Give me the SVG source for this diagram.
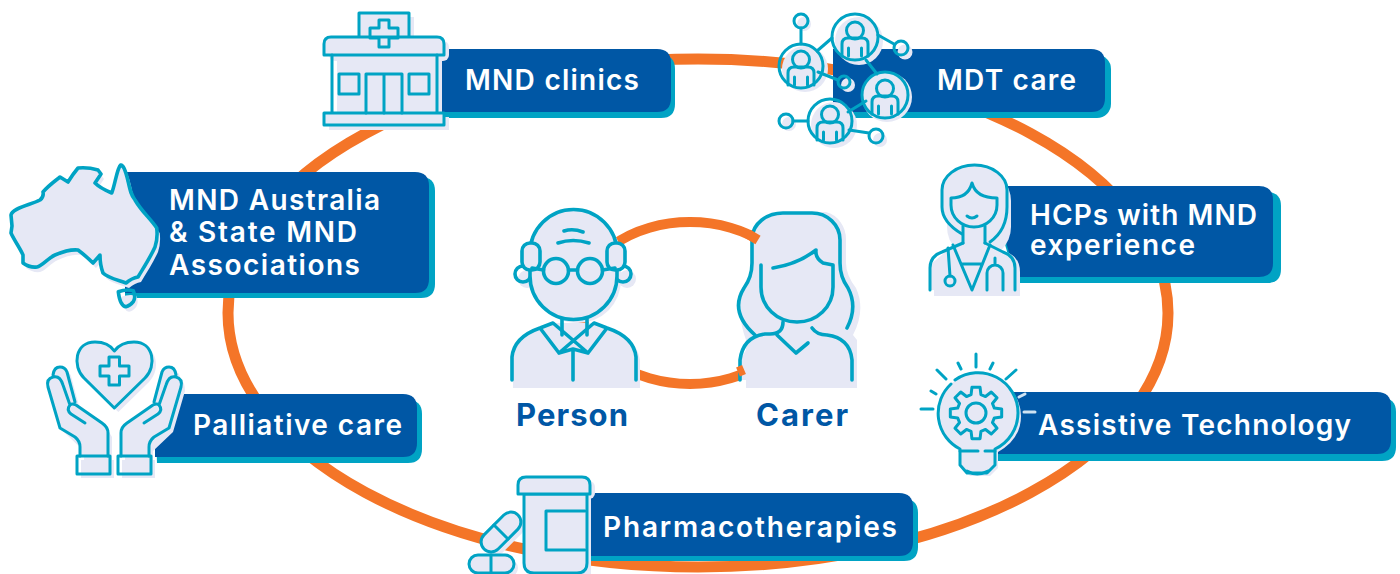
<svg xmlns="http://www.w3.org/2000/svg" xmlns:xlink="http://www.w3.org/1999/xlink" width="1400" height="574" viewBox="0 0 1400 574">
<style>
.ln{fill:none;stroke:#00a3c4;stroke-width:3;stroke-linecap:round;stroke-linejoin:round}
.th{stroke-width:3.6}
.lf{fill:#e6e8f5;stroke:none}
.ff{fill:#e6e8f5}
.bar{fill:#0057a5}
.sh{fill:#00a3c4}
.t{font-family:"Inter","Liberation Sans",sans-serif;font-weight:600;font-size:28px;fill:#fff}
.c{font-family:"Inter","Liberation Sans",sans-serif;font-weight:700;font-size:31px;fill:#0057a5}
.o{fill:none;stroke:#f47528}
</style>
<defs>
<g id="pp">
<circle cx="0" cy="-6.500" r="8.500" class="ln"/>
<path class="ln" d="M-13,19V7Q-13,1-7,1H7Q13,1 13,7V19M-6.500,11V19M6.500,11V19"/>
</g>
<path id="oz" d="M11,215C12,208 30,205 40,200Q44,197 43,192C48,186 55,181 60,177L68,182Q73,174 78,168Q88,167 98,170L101,174L95,183Q100,188 111.700,193C115,185 117,168 120.700,165Q124,164 128,181C130,190 131,195 135,200C142,212 150,218 156.700,228Q158,238 155,247C150,258 144,267 138,277Q132,278 126,283C118,280 108,278 103,273Q100,265 100,255L93,263Q86,256 78,250C70,249 62,252 55,255C48,258 42,266 37,267Q30,268 23,263L23,255C20,248 14,240 11,233L12,226Z"/>
<path id="tas" d="M118.300,291.700Q126,289 133.300,290.700Q136,297 133.300,301.700Q130,306 126,306.700Q120,306 118.300,291.700Z"/>
<path id="hand" d="M80,456V447L60,428L48,387Q48,378 53,375Q53,367 60,367Q65,367 67,372L75,402L102,423L108,433V456Z"/>
<path id="handl" d="M80,456V447Q80,441 75,437L60,428L48,387Q46,379 53,377Q60,375 63,385L70,405M53,375Q54,367 60,367Q65,367 67,372L75,402M85,423L71,414Q66,410 70,405Q72,403 76,405L102,423Q108,427 108,433V456"/>
<path id="heart" d="M114.300,408L84,378C72,366 75,342 95,342C105,342 111,346 114.300,351C118,346 124,342 134,342C154,342 157,366 145,378Z"/>
<path id="bulb" d="M1018,413A40,40 0 1 0 960,449V465L967,473H987L995,465V449Q1018,436 1018,413Z"/>
</defs>
<rect width="1400" height="574" fill="#fff"/>
<g id="connectors">
<ellipse class="o" stroke-width="11" cx="698" cy="313" rx="470" ry="254"/>
<ellipse class="o" stroke-width="10" cx="690" cy="303" rx="110" ry="81"/>
</g>

<g id="node-clinics">
<path class="sh" d="M430,55H661Q675,55 675,69V104Q675,118 661,118H430Z"/>
<path class="bar" d="M430,49H657Q671,49 671,63V98Q671,112 657,112H430Z"/>
<g class="lf"><rect x="364" y="17" width="50" height="40"/><rect x="329" y="41" width="120" height="20" rx="6"/><rect x="337" y="55" width="105" height="62"/><rect x="329" y="117" width="120" height="13"/></g>
<path class="lf" d="M337,58H432V113H337Z"/>
<g class="ln">
<rect class="ff" x="359" y="13" width="50" height="40"/>
<path class="ff" d="M324,55V44Q324,37 331,37H437Q444,37 444,44V55Z"/>
<path d="M332,55V113M437,55V113"/>
<rect class="ff" x="324" y="113" width="120" height="12"/>
<path d="M379,20H389V28H398V38H389V47H379V38H370V28H379Z"/>
<rect x="339" y="74" width="20" height="20"/><rect x="409" y="74" width="20" height="20"/>
<path d="M366,113V74H402V113M384,74V113"/>
</g>
<text class="t" x="465" y="89.500" textLength="174">MND clinics</text>
</g>

<g id="node-mdt">
<rect class="sh" x="833" y="55" width="278" height="63" rx="14"/>
<path class="bar" d="M833,49H1091Q1105,49 1105,63V98Q1105,112 1091,112H833Z"/>
<g class="lf">
<circle cx="804" cy="24" r="7"/><circle cx="905" cy="52" r="7.500"/><circle cx="848" cy="85" r="7"/><circle cx="789" cy="124" r="7"/><circle cx="880" cy="140" r="7"/>
<circle cx="805" cy="69" r="23"/><circle cx="859" cy="41" r="24"/><circle cx="887" cy="97" r="25"/><circle cx="834" cy="125" r="23"/>
</g>
<g class="ln">
<path d="M801,28V44M817,51L832,38M878,35L894,44M818,72L838,80M866,60L877,74M848,112L866,101M793,121H808M849,130L869,133"/>
<circle cx="801" cy="21" r="7"/><circle cx="901" cy="48" r="7"/><circle cx="844" cy="82" r="6"/><circle cx="786" cy="121" r="7"/><circle cx="876" cy="136" r="7"/>
<circle cx="801" cy="66" r="22"/><circle cx="855" cy="37" r="23"/><circle cx="885" cy="95" r="23"/><circle cx="830" cy="121" r="22"/>
</g>
<use xlink:href="#pp" href="#pp" x="801" y="66"/><use xlink:href="#pp" href="#pp" x="855" y="37"/><use xlink:href="#pp" href="#pp" x="885" y="95"/><use xlink:href="#pp" href="#pp" x="830" y="121"/>
<text class="t" x="937" y="89.500" textLength="139">MDT care</text>
</g>

<g id="node-australia">
<path class="sh" d="M125,177H421Q435,177 435,191V284Q435,298 421,298H125Z"/>
<path class="bar" d="M125,172H415Q429,172 429,186V279Q429,293 415,293H125Z"/>
<use class="lf" href="#oz" xlink:href="#oz" x="3" y="5"/>
<use class="lf" href="#oz" xlink:href="#oz"/>
<use class="lf" href="#tas" xlink:href="#tas" x="3" y="5"/>
<g class="ln th"><use href="#oz" xlink:href="#oz"/><use href="#tas" xlink:href="#tas"/></g>
<text class="t" x="169" y="209.500" textLength="211">MND Australia</text>
<text class="t" x="169" y="241.500" textLength="188">&amp; State MND</text>
<text class="t" x="169" y="274.500" textLength="191">Associations</text>
</g>

<g id="node-palliative">
<path class="sh" d="M155,400H408Q422,400 422,414V449Q422,463 408,463H157Z"/>
<path class="bar" d="M168,394H403Q417,394 417,408V443Q417,457 403,457H155V420Z"/>
<g class="lf" transform="translate(4,4)">
<use href="#hand" xlink:href="#hand"/>
<use href="#hand" xlink:href="#hand" transform="translate(229,0) scale(-1,1)"/>
<rect x="77" y="456" width="33" height="18"/><rect x="118" y="456" width="33" height="18"/>
<use href="#heart" xlink:href="#heart"/>
</g>
<g class="lf">
<use href="#heart" xlink:href="#heart"/>
<use href="#hand" xlink:href="#hand"/>
<use href="#hand" xlink:href="#hand" transform="translate(229,0) scale(-1,1)"/>
</g>
<g class="ln">
<use href="#heart" xlink:href="#heart"/>
<path d="M109,357H119.500V366H129V376H119.500V385H109V376H100V366H109Z"/>
<rect x="77" y="456" width="33" height="18"/><rect x="118" y="456" width="33" height="18"/>
<use href="#handl" xlink:href="#handl"/>
<use href="#handl" xlink:href="#handl" transform="translate(229,0) scale(-1,1)"/>
</g>
<text class="t" x="193" y="434.500" textLength="209">Palliative care</text>
</g>

<g id="node-person">
<g class="lf">
<rect x="534" y="214" width="87" height="109" rx="43"/>
<circle cx="527" cy="279" r="9"/><circle cx="627" cy="279" r="9"/>
<path d="M513,388V360Q515,335 546,330H604Q636,335 640,360V388Z"/>
</g>
<g class="lf"><rect x="530" y="210" width="87" height="109" rx="43"/><path d="M512,380V357Q514,333 553,323H594Q634,333 636,357V380Z"/></g>
<g class="ln th">
<circle cx="523" cy="274" r="8"/><circle cx="623" cy="274" r="8"/>
<path class="ff" d="M530,258V253A43,43 0 0 1 617,253V276A43,43 0 0 1 530,276Z"/>
<rect class="ff" x="522" y="243" width="18" height="27" rx="8"/><rect class="ff" x="607" y="243" width="18" height="27" rx="8"/>
<circle cx="556" cy="271" r="12.500"/><circle cx="590" cy="271" r="12.500"/>
<path d="M568.500,270H577.500M532,268L543.500,270M602.500,270L615,268M558,243Q573,238 589,243M564,231Q573,228 583,232"/>
<path d="M562,319V335M587,319V335"/>
<path d="M512,380V357Q514,337 540,328L553,323L588,353L573,349L559,353L540,328M636,380V357Q634,337 607,328L594,323L559,353M588,353L607,328M573,349V380"/>
</g>
</g>

<g id="node-carer">
<path class="lf" d="M746,340Q736,312 744,298Q757,275 757,262V238A31,26 0 0 1 788,212H826A26,28 0 0 1 846,240V263Q846,275 856,288Q866,310 853,335L857,340V388H746Z"/>
<path class="lf" d="M755,335Q730,303 745,285Q752,275 752,263V238A31,26 0 0 1 783,212H812A28,28 0 0 1 840,240V263Q840,275 848,288Q860,310 847,335V380H740V360Z"/>
<g class="ln th">
<path d="M847,328Q858,307 848,288Q840,277 840,263V240A28,27 0 0 0 812,213H783A31,26 0 0 0 752,238V263Q752,277 744,288Q729,312 755,335"/>
<path d="M761,265V287C761,307 777,322 797,322C817,322 833,307 833,287V265L823,263Q815,258 816,250Q798,264 773,268"/>
<path d="M783,322Q783,334 770,334H765Q743,337 740,360V380"/>
<path d="M812,328Q817,335 827,335Q850,338 852,360V380"/>
<path d="M777,335L796,353L808,343"/>
</g>
</g>
<g id="connectors-front">
<path class="o" stroke-width="10" d="M748,234Q753,237 758,240M738,372L744,369.500"/>
</g>
<text class="c" x="516" y="425.500" textLength="112">Person</text>
<text class="c" x="756" y="425.500" textLength="92">Carer</text>

<g id="node-hcps">
<path class="sh" d="M990,192H1267Q1281,192 1281,206V269Q1281,283 1267,283H1016Z"/>
<path class="bar" d="M990,186H1259Q1273,186 1273,200V263Q1273,277 1259,277H1016Z"/>
<g class="lf">
<rect x="947" y="169" width="64" height="90" rx="32"/>
<path d="M934,296V272Q934,255 955,251L968,248H990L1003,251Q1020,255 1020,272V296Z"/>
</g>
<path class="lf" d="M942,190A32,25 0 0 1 1007,190V215Q1007,235 993,245L1015,262V290H930V265L950,248L962,234Q942,222 942,210Z"/>
<g class="ln">
<path d="M962,234Q942,222 942,207V190A32.500,25 0 0 1 1007,190V207Q1007,230 990,242"/>
<path d="M951,198Q968,198 972,183Q976,198 997,198V205C997,218 986,227 974,227C962,227 951,218 951,205Z"/>
<path d="M967,216Q972,220 977,216M963,226V243M985,226V243"/>
<path d="M930,290V268Q930,256 942,252L963,243M1015,290V268Q1015,256 1003,252L985,243"/>
<path d="M953,245L972,290L990,245M962,264H982"/>
<path d="M948,248L950,276"/>
<circle cx="950" cy="281" r="5"/>
<path d="M987,290V273A8,8 0 0 1 1003,273V290M995,258V265"/>
</g>
<text class="t" x="1030" y="225" textLength="227">HCPs with MND</text>
<text class="t" x="1030" y="255" textLength="165">experience</text>
</g>

<g id="node-at">
<path class="sh" d="M990,398H1382Q1396,398 1396,412V447Q1396,461 1382,461H990Z"/>
<path class="bar" d="M990,392H1377Q1391,392 1391,406V440Q1391,454 1377,454H990Z"/>
<use class="lf" href="#bulb" xlink:href="#bulb" x="3" y="3"/>
<use class="lf" href="#bulb" xlink:href="#bulb"/>
<g class="ln">
<path d="M951,384A40,40 0 0 0 960,449V465L967,473H987L995,465V449A40,40 0 0 0 1018,413A40,40 0 0 0 955,380"/>
<path d="M960,451H978M985,451H995M967,471Q977,477 988,471"/>
<polygon transform="translate(976,413)" points="18.35,-4.92 25.68,-4.07 25.68,4.07 18.35,4.92 16.45,9.5 21.03,15.28 15.28,21.03 9.5,16.45 4.92,18.35 4.07,25.68 -4.07,25.68 -4.92,18.35 -9.5,16.45 -15.28,21.03 -21.03,15.28 -16.45,9.5 -18.35,4.92 -25.68,4.07 -25.68,-4.07 -18.35,-4.92 -16.45,-9.5 -21.03,-15.28 -15.28,-21.03 -9.5,-16.45 -4.92,-18.35 -4.07,-25.68 4.07,-25.68 4.92,-18.35 9.5,-16.45 15.28,-21.03 21.03,-15.28 16.45,-9.5"/>
<circle cx="976" cy="413" r="10"/>
<path d="M976,354V367M958,363L961,369M993,363L990,369M937,370L946,379M1016,370L1006,379M931,391L936,394M921,409H933"/>
<path d="M1025,394L1019,397M1024,412H1035" style="stroke:#cfe3f2"/>
</g>
<text class="t" x="1038" y="434.500" textLength="313">Assistive Technology</text>
</g>

<g id="node-pharma">
<path class="sh" d="M585,499H904Q918,499 918,513V547Q918,561 904,561H585Z"/>
<path class="bar" d="M585,493H899Q913,493 913,507V542Q913,556 899,556H585Z"/>
<g class="lf">
<rect x="531" y="498" width="60" height="76"/><rect x="523" y="481" width="72" height="18" rx="6"/>
<rect x="473" y="559" width="45" height="18" rx="9"/>
<rect x="481" y="526" width="48" height="20" rx="10" transform="rotate(-45 505 536)"/>
</g>
<g class="ln">
<path class="ff" d="M524,494V563Q524,573 534,573H577Q587,573 587,563V494Z"/>
<path class="ff" d="M518,494V485Q518,477 526,477H582Q590,477 590,485V494Z"/>
<path d="M585,511H546V550H585"/>
<g class="ff"><rect x="469" y="555" width="45" height="18" rx="9"/><rect x="477" y="522" width="48" height="20" rx="10" transform="rotate(-45 501 532)"/></g>
<path d="M491,555V573M494,525L508,539"/>
</g>
<text class="t" x="603" y="536.500" textLength="294">Pharmacotherapies</text>
</g>
</svg>
